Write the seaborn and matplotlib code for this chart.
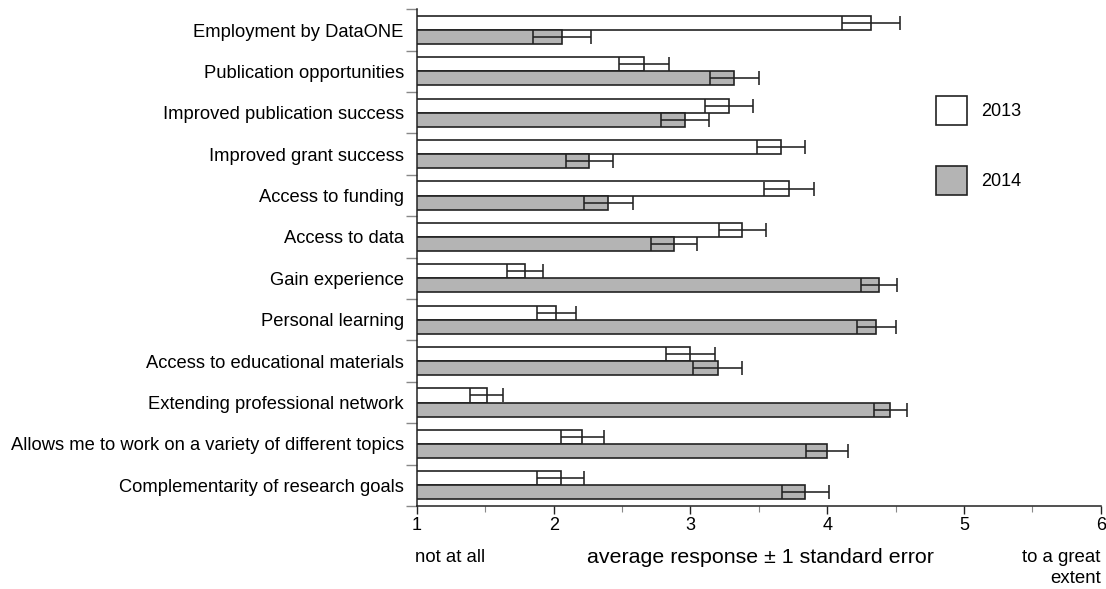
import matplotlib
matplotlib.use("Agg")
import matplotlib.pyplot as plt
from matplotlib.patches import Patch
from matplotlib.ticker import MultipleLocator, FixedLocator, NullFormatter
import numpy as np
import pandas as pd
import seaborn as sns

# Survey items (top to bottom)
items = [
    "Employment by DataONE",
    "Publication opportunities",
    "Improved publication success",
    "Improved grant success",
    "Access to funding",
    "Access to data",
    "Gain experience",
    "Personal learning",
    "Access to educational materials",
    "Extending professional network",
    "Allows me to work on a variety of different topics",
    "Complementarity of research goals",
]
years = ["2013", "2014"]

# Average response and standard error per year
mean_2013 = [4.32, 2.66, 3.28, 3.66, 3.72, 3.38, 1.79, 2.02, 3.00, 1.51, 2.21, 2.05]
se_2013 = [0.21, 0.18, 0.175, 0.175, 0.18, 0.17, 0.13, 0.14, 0.18, 0.12, 0.155, 0.17]
mean_2014 = [2.06, 3.32, 2.96, 2.26, 2.40, 2.88, 4.38, 4.36, 3.20, 4.46, 4.00, 3.84]
se_2014 = [0.21, 0.18, 0.175, 0.17, 0.18, 0.17, 0.13, 0.145, 0.18, 0.12, 0.155, 0.17]

x_ticks = [1, 2, 3, 4, 5, 6]

sns.set_theme(style="white")
plt.rcParams["font.family"] = ["Liberation Sans", "DejaVu Sans"]
plt.rcParams["text.color"] = "black"
plt.rcParams["xtick.color"] = "black"
plt.rcParams["ytick.color"] = "black"

df = pd.DataFrame({
    "item": items * 2,
    "year": [years[0]] * len(items) + [years[1]] * len(items),
    "mean": mean_2013 + mean_2014,
})

ink = "#222222"
fills = {"2013": "white", "2014": "#b4b4b4"}

fig = plt.figure(figsize=(11.06, 5.89), dpi=100)
ax = fig.add_axes([0.3770, 0.1409, 0.6182, 0.8433])

sns.barplot(
    data=df, y="item", x="mean", hue="year", order=items, hue_order=years,
    orient="h", palette=fills, edgecolor=ink, linewidth=1.2, width=0.68,
    errorbar=None, legend=False, ax=ax,
)

# Standard-error whiskers on each bar
for container, se in zip(ax.containers, [se_2013, se_2014]):
    xs = [b.get_width() for b in container]
    ys = [b.get_y() + b.get_height() / 2 for b in container]
    ax.errorbar(xs, ys, xerr=se, fmt="none", ecolor=ink, elinewidth=1.15,
                capsize=5, capthick=1.15, zorder=5)

ax.set_xlim(1, 6)
ax.set_ylim(len(items) - 0.5, -0.5)

# x axis: labelled integer ticks, minor ticks at halves
ax.xaxis.set_major_locator(FixedLocator(x_ticks))
ax.set_xticklabels([str(t) for t in x_ticks])
ax.xaxis.set_minor_locator(MultipleLocator(0.5))
ax.tick_params(axis="x", which="major", direction="out", length=6, width=1.0,
               color=ink, labelsize=13, pad=2, bottom=True, labelcolor="black")
ax.tick_params(axis="x", which="minor", direction="out", length=4, width=0.8,
               color="#888888", bottom=True)

# y axis: labels at item centres, ticks at item boundaries
ax.yaxis.set_minor_locator(FixedLocator(np.arange(-0.5, len(items), 1.0)))
ax.yaxis.set_minor_formatter(NullFormatter())
ax.tick_params(axis="y", which="major", length=0, labelsize=13.2, pad=9.5,
               labelcolor="black")
ax.tick_params(axis="y", which="minor", direction="out", length=8, width=1.0,
               color="#888888", left=True)
ax.set_ylabel("")
ax.set_xlabel("")

for side in ["top", "right"]:
    ax.spines[side].set_visible(False)
for side in ["left", "bottom"]:
    ax.spines[side].set_color(ink)
    ax.spines[side].set_linewidth(1.1)

ax.text(-0.003, -0.104, "not at all", transform=ax.transAxes, ha="left",
        va="center", fontsize=13.4, color="black")
ax.text(0.502, -0.104, "average response \u00b1 1 standard error",
        transform=ax.transAxes, ha="center", va="center", fontsize=15.4,
        color="black")
ax.text(1.0, -0.125, "to a great\nextent", transform=ax.transAxes, ha="right",
        va="center", fontsize=13.4, color="black", linespacing=1.3,
        multialignment="right")

handles = [Patch(facecolor=fills[y], edgecolor=ink, linewidth=1.2, label=y)
           for y in years]
ax.legend(handles=handles, loc="upper left", bbox_to_anchor=(0.748, 0.841),
          frameon=False, fontsize=13, handlelength=1.72, handleheight=2.15,
          labelspacing=2.25, handletextpad=0.8, borderaxespad=0)

fig.savefig("out.png", dpi=100)
